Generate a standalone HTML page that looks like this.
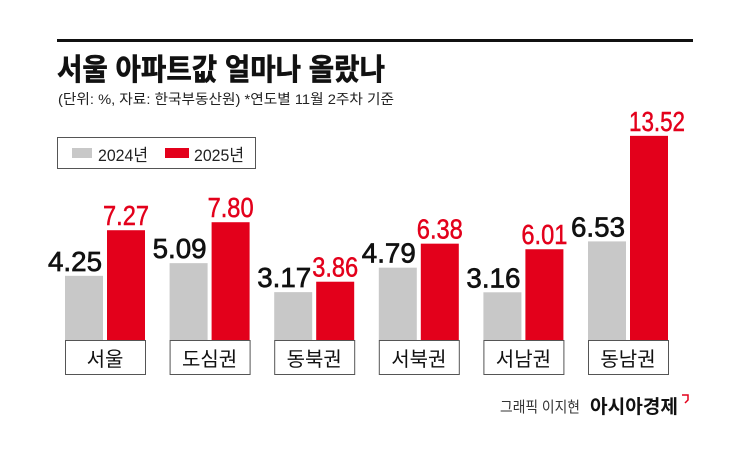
<!DOCTYPE html>
<html><head><meta charset="utf-8"><style>
html,body{margin:0;padding:0;background:#fff;width:745px;height:455px;overflow:hidden}
svg{display:block}
text{font-family:"Liberation Sans","Noto Sans CJK KR",sans-serif}
</style></head><body>
<svg width="745" height="455" viewBox="0 0 745 455">
<rect x="57" y="39" width="636" height="3" fill="#111"/>
<text x="57" y="80" font-size="30" font-weight="bold" fill="#111" stroke="#111" stroke-width="0.6" textLength="328" lengthAdjust="spacingAndGlyphs">서울 아파트값 얼마나 올랐나</text>
<text x="58" y="104" font-size="14" fill="#222" textLength="336" lengthAdjust="spacingAndGlyphs">(단위: %, 자료: 한국부동산원)  *연도별 11월 2주차 기준</text>
<rect x="57.5" y="137.5" width="198" height="31" fill="#fff" stroke="#555" stroke-width="1"/>
<rect x="72" y="148" width="20" height="10" fill="#c8c8c8"/>
<text x="98" y="161" font-size="17" fill="#222" textLength="50" lengthAdjust="spacingAndGlyphs">2024년</text>
<rect x="165" y="148" width="24" height="10" fill="#e3001b"/>
<text x="194" y="161" font-size="17" fill="#222" textLength="50" lengthAdjust="spacingAndGlyphs">2025년</text>
<g id="bars"></g>
<text x="500" y="412" font-size="15" fill="#333" textLength="80" lengthAdjust="spacingAndGlyphs">그래픽 이지현</text>
<text x="590" y="413" font-size="19" font-weight="bold" fill="#111" textLength="88" lengthAdjust="spacingAndGlyphs">아시아경제</text>
<path d="M682 395h6v5l-3 3" fill="none" stroke="#e3001b" stroke-width="1.5"/>
</svg>
<script>
var d=[["서울",4.25,7.27],["도심권",5.09,7.80],["동북권",3.17,3.86],["서북권",4.79,6.38],["서남권",3.16,6.01],["동남권",6.53,13.52]];
var g=document.getElementById('bars'),s='',base=340,k=15.1;
d.forEach(function(r,i){var x=65+i*104.6;
var h1=r[1]*k,h2=r[2]*k;
s+='<rect x="'+x+'" y="'+(base-h1)+'" width="38" height="'+h1+'" fill="#c8c8c8"/>';
s+='<rect x="'+(x+42)+'" y="'+(base-h2)+'" width="38" height="'+h2+'" fill="#e3001b"/>';
s+='<text x="'+(x+10)+'" y="'+(base-h1-5)+'" font-size="28" text-anchor="middle" fill="#111" stroke="#111" stroke-width="0.7" textLength="54" lengthAdjust="spacingAndGlyphs">'+r[1].toFixed(2)+'</text>';
var w=r[2]>=10?56:46;
s+='<text x="'+(x+61+(r[2]>=10?8:0))+'" y="'+(base-h2-5)+'" font-size="28" text-anchor="middle" fill="#e3001b" stroke="#e3001b" stroke-width="0.5" textLength="'+w+'" lengthAdjust="spacingAndGlyphs">'+r[2].toFixed(2)+'</text>';
s+='<rect x="'+(x+0.5)+'" y="340.5" width="80" height="34" fill="#fff" stroke="#555"/>';
s+='<text x="'+(x+40)+'" y="366" font-size="20" text-anchor="middle" fill="#111">'+r[0]+'</text>';
});
g.innerHTML=s;
</script>
</body></html>
